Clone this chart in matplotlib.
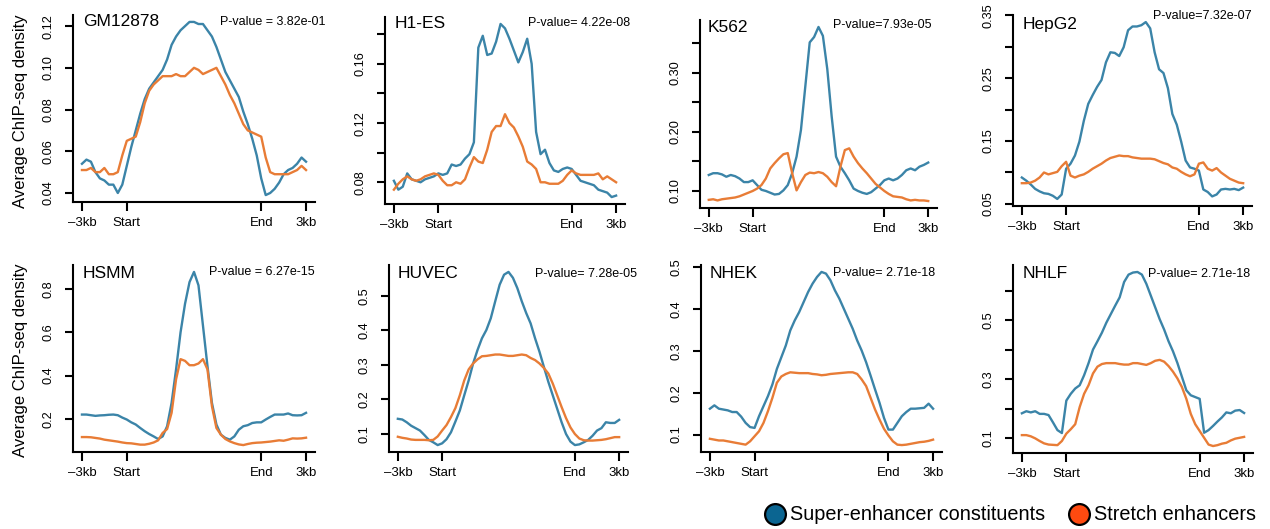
import numpy as np
import matplotlib.pyplot as plt
from matplotlib.lines import Line2D

plt.rcParams['font.family'] = ['Liberation Sans', 'DejaVu Sans']

################################################################################
### Profiles: average ChIP-seq density, 51 bins from -3kb to +3kb
### (bins 0-10 upstream flank, 10-40 scaled element body, 40-50 downstream)
################################################################################

bins = np.arange(51) / 10.0

cell_lines = ['GM12878', 'H1-ES', 'K562', 'HepG2', 'HSMM', 'HUVEC', 'NHEK', 'NHLF']
pvalues = ['P-value = 3.82e-01', 'P-value= 4.22e-08', 'P-value=7.93e-05', 'P-value=7.32e-07',
           'P-value = 6.27e-15', 'P-value= 7.28e-05', 'P-value= 2.71e-18', 'P-value= 2.71e-18']

gm_se = [0.054, 0.056, 0.055, 0.050, 0.047, 0.046, 0.044, 0.044, 0.040, 0.044,
         0.053, 0.062, 0.070, 0.078, 0.085, 0.090, 0.093, 0.096, 0.099, 0.104,
         0.111, 0.115, 0.118, 0.120, 0.122, 0.122, 0.121, 0.121, 0.118, 0.115,
         0.110, 0.104, 0.098, 0.094, 0.090, 0.086, 0.079, 0.073, 0.066, 0.058,
         0.047, 0.039, 0.040, 0.042, 0.045, 0.049, 0.051, 0.052, 0.054, 0.057, 0.055]
gm_st = [0.051, 0.051, 0.052, 0.050, 0.050, 0.052, 0.049, 0.049, 0.050, 0.058,
         0.065, 0.066, 0.067, 0.074, 0.083, 0.089, 0.092, 0.094, 0.096, 0.096,
         0.096, 0.097, 0.096, 0.096, 0.098, 0.100, 0.099, 0.097, 0.098, 0.099,
         0.100, 0.096, 0.092, 0.087, 0.083, 0.078, 0.073, 0.070, 0.069, 0.068,
         0.067, 0.057, 0.050, 0.049, 0.049, 0.049, 0.049, 0.050, 0.051, 0.053, 0.051]

h1_se = [0.081, 0.075, 0.077, 0.086, 0.082, 0.081, 0.080, 0.082, 0.083, 0.084,
         0.086, 0.085, 0.086, 0.092, 0.091, 0.092, 0.096, 0.099, 0.107, 0.171,
         0.179, 0.166, 0.167, 0.175, 0.187, 0.184, 0.177, 0.169, 0.161, 0.168,
         0.177, 0.160, 0.114, 0.099, 0.102, 0.093, 0.088, 0.087, 0.089, 0.090,
         0.089, 0.085, 0.081, 0.080, 0.079, 0.078, 0.075, 0.074, 0.073, 0.070, 0.071]
h1_st = [0.075, 0.079, 0.082, 0.084, 0.082, 0.081, 0.082, 0.084, 0.085, 0.086,
         0.085, 0.081, 0.078, 0.078, 0.080, 0.079, 0.082, 0.090, 0.097, 0.094,
         0.093, 0.102, 0.114, 0.118, 0.118, 0.126, 0.120, 0.117, 0.111, 0.104,
         0.094, 0.092, 0.089, 0.080, 0.080, 0.079, 0.079, 0.079, 0.081, 0.085,
         0.088, 0.086, 0.085, 0.085, 0.085, 0.085, 0.086, 0.082, 0.084, 0.082, 0.080]

k562_se = [0.127, 0.130, 0.130, 0.128, 0.124, 0.127, 0.125, 0.121, 0.115, 0.115,
           0.118, 0.110, 0.102, 0.100, 0.097, 0.094, 0.095, 0.101, 0.110, 0.130,
           0.158, 0.203, 0.277, 0.351, 0.360, 0.377, 0.362, 0.306, 0.226, 0.158,
           0.141, 0.130, 0.118, 0.104, 0.100, 0.097, 0.095, 0.098, 0.104, 0.110,
           0.118, 0.121, 0.118, 0.121, 0.127, 0.135, 0.138, 0.135, 0.141, 0.144, 0.148]
k562_st = [0.085, 0.086, 0.084, 0.086, 0.087, 0.088, 0.089, 0.091, 0.094, 0.097,
           0.100, 0.104, 0.110, 0.121, 0.138, 0.147, 0.155, 0.162, 0.164, 0.130,
           0.101, 0.115, 0.127, 0.131, 0.130, 0.132, 0.130, 0.124, 0.115, 0.108,
           0.141, 0.169, 0.172, 0.158, 0.147, 0.138, 0.130, 0.121, 0.112, 0.106,
           0.100, 0.095, 0.091, 0.090, 0.089, 0.086, 0.084, 0.085, 0.084, 0.084, 0.083]

hepg2_se = [0.092, 0.087, 0.081, 0.074, 0.070, 0.067, 0.066, 0.063, 0.058, 0.065,
            0.106, 0.114, 0.127, 0.149, 0.182, 0.209, 0.223, 0.236, 0.247, 0.275,
            0.291, 0.290, 0.285, 0.299, 0.326, 0.332, 0.332, 0.334, 0.339, 0.329,
            0.291, 0.264, 0.258, 0.234, 0.193, 0.176, 0.149, 0.119, 0.108, 0.106,
            0.103, 0.073, 0.069, 0.062, 0.065, 0.073, 0.074, 0.073, 0.074, 0.072, 0.076]
hepg2_st = [0.083, 0.083, 0.084, 0.087, 0.092, 0.100, 0.097, 0.099, 0.101, 0.110,
            0.117, 0.095, 0.092, 0.095, 0.097, 0.101, 0.106, 0.110, 0.114, 0.119,
            0.123, 0.125, 0.127, 0.126, 0.126, 0.124, 0.123, 0.122, 0.122, 0.122,
            0.121, 0.118, 0.115, 0.113, 0.108, 0.106, 0.101, 0.097, 0.094, 0.097,
            0.114, 0.116, 0.106, 0.103, 0.107, 0.100, 0.095, 0.090, 0.087, 0.084, 0.083]

hsmm_se = [0.220, 0.220, 0.217, 0.214, 0.216, 0.217, 0.219, 0.220, 0.217, 0.206,
           0.197, 0.184, 0.174, 0.158, 0.143, 0.130, 0.119, 0.107, 0.119, 0.166,
           0.274, 0.429, 0.600, 0.732, 0.832, 0.879, 0.817, 0.631, 0.445, 0.274,
           0.174, 0.127, 0.112, 0.104, 0.119, 0.150, 0.166, 0.171, 0.181, 0.184,
           0.184, 0.197, 0.209, 0.220, 0.220, 0.220, 0.225, 0.217, 0.216, 0.217, 0.228]
hsmm_st = [0.116, 0.116, 0.115, 0.112, 0.109, 0.104, 0.101, 0.098, 0.095, 0.091,
           0.088, 0.087, 0.084, 0.081, 0.081, 0.085, 0.091, 0.101, 0.135, 0.153,
           0.228, 0.383, 0.476, 0.468, 0.448, 0.448, 0.456, 0.476, 0.429, 0.259,
           0.158, 0.127, 0.107, 0.096, 0.088, 0.082, 0.079, 0.084, 0.088, 0.090,
           0.091, 0.093, 0.095, 0.098, 0.101, 0.099, 0.104, 0.110, 0.109, 0.110, 0.113]

huvec_se = [0.144, 0.142, 0.134, 0.124, 0.117, 0.110, 0.097, 0.083, 0.076, 0.068,
            0.073, 0.085, 0.105, 0.136, 0.168, 0.212, 0.255, 0.304, 0.343, 0.377,
            0.401, 0.435, 0.484, 0.532, 0.561, 0.569, 0.552, 0.522, 0.484, 0.450,
            0.420, 0.377, 0.338, 0.294, 0.251, 0.212, 0.173, 0.134, 0.100, 0.078,
            0.068, 0.070, 0.076, 0.083, 0.095, 0.110, 0.117, 0.134, 0.132, 0.132, 0.141]
huvec_st = [0.092, 0.089, 0.087, 0.084, 0.083, 0.083, 0.083, 0.082, 0.083, 0.093,
            0.110, 0.126, 0.149, 0.175, 0.212, 0.255, 0.287, 0.304, 0.316, 0.325,
            0.326, 0.328, 0.330, 0.330, 0.328, 0.326, 0.326, 0.328, 0.330, 0.328,
            0.320, 0.314, 0.304, 0.291, 0.275, 0.246, 0.212, 0.178, 0.146, 0.119,
            0.100, 0.087, 0.082, 0.081, 0.081, 0.082, 0.083, 0.085, 0.088, 0.091, 0.091]

nhek_se = [0.162, 0.170, 0.162, 0.160, 0.158, 0.154, 0.154, 0.143, 0.128, 0.118,
           0.116, 0.144, 0.168, 0.192, 0.220, 0.257, 0.285, 0.313, 0.349, 0.373,
           0.393, 0.417, 0.441, 0.461, 0.477, 0.489, 0.485, 0.469, 0.445, 0.425,
           0.401, 0.377, 0.353, 0.325, 0.301, 0.273, 0.241, 0.208, 0.176, 0.140,
           0.112, 0.112, 0.128, 0.144, 0.154, 0.162, 0.162, 0.163, 0.164, 0.174, 0.162]
nhek_st = [0.090, 0.088, 0.086, 0.086, 0.084, 0.082, 0.080, 0.078, 0.076, 0.084,
           0.096, 0.108, 0.128, 0.156, 0.188, 0.224, 0.239, 0.245, 0.249, 0.248,
           0.247, 0.247, 0.247, 0.245, 0.244, 0.242, 0.243, 0.245, 0.246, 0.247,
           0.248, 0.249, 0.249, 0.245, 0.232, 0.216, 0.188, 0.160, 0.136, 0.114,
           0.098, 0.084, 0.076, 0.075, 0.076, 0.078, 0.080, 0.082, 0.083, 0.085, 0.088]

nhlf_se = [0.185, 0.192, 0.188, 0.192, 0.183, 0.183, 0.179, 0.154, 0.128, 0.118,
           0.228, 0.251, 0.269, 0.280, 0.314, 0.355, 0.401, 0.429, 0.458, 0.492,
           0.521, 0.550, 0.578, 0.630, 0.655, 0.662, 0.664, 0.655, 0.624, 0.584,
           0.544, 0.504, 0.469, 0.429, 0.395, 0.355, 0.309, 0.263, 0.246, 0.240,
           0.234, 0.119, 0.128, 0.142, 0.157, 0.171, 0.188, 0.185, 0.194, 0.196, 0.186]
nhlf_st = [0.111, 0.111, 0.107, 0.100, 0.091, 0.083, 0.079, 0.078, 0.077, 0.091,
           0.116, 0.131, 0.148, 0.206, 0.251, 0.280, 0.320, 0.343, 0.352, 0.355,
           0.355, 0.355, 0.352, 0.350, 0.350, 0.355, 0.355, 0.352, 0.349, 0.355,
           0.363, 0.366, 0.360, 0.345, 0.326, 0.303, 0.274, 0.234, 0.183, 0.148,
           0.125, 0.102, 0.079, 0.074, 0.077, 0.082, 0.085, 0.093, 0.099, 0.102, 0.105]

se_profiles = [gm_se, h1_se, k562_se, hepg2_se, hsmm_se, huvec_se, nhek_se, nhlf_se]
st_profiles = [gm_st, h1_st, k562_st, hepg2_st, hsmm_st, huvec_st, nhek_st, nhlf_st]

xtick_pos = [0, 1, 4, 5]
xtick_labels = ['\u20133kb', 'Start', 'End', '3kb']

yticks = [[0.04, 0.06, 0.08, 0.10, 0.12],
          [0.08, 0.10, 0.12, 0.14, 0.16, 0.18],
          [0.10, 0.15, 0.20, 0.25, 0.30, 0.35],
          [0.05, 0.10, 0.15, 0.20, 0.25, 0.30, 0.35],
          [0.2, 0.4, 0.6, 0.8],
          [0.1, 0.2, 0.3, 0.4, 0.5],
          [0.1, 0.2, 0.3, 0.4, 0.5],
          [0.1, 0.2, 0.3, 0.4, 0.5, 0.6]]
ytick_labels = [['0.04', '0.06', '0.08', '0.10', '0.12'],
                ['0.08', '', '0.12', '', '0.16', ''],
                ['0.10', '', '0.20', '', '0.30', ''],
                ['0.05', '', '0.15', '', '0.25', '', '0.35'],
                ['0.2', '0.4', '0.6', '0.8'],
                ['0.1', '0.2', '0.3', '0.4', '0.5'],
                ['0.1', '0.2', '0.3', '0.4', '0.5'],
                ['0.1', '', '0.3', '', '0.5', '']]

################################################################################
### Layout (pixel boxes: left, top, right, bottom)
################################################################################

W, H = 1270, 529
boxes = [(73, 15, 315, 202), (385, 17, 625, 204), (700, 20, 937, 208), (1013, 15, 1252, 206),
         (73, 265, 315, 452), (389, 265, 628, 452), (701, 265, 942, 452), (1013, 265, 1253, 453)]
title_xy = [(83, 22), (395, 23), (708, 27), (1023, 24),
            (83, 273), (398, 273), (710, 273), (1023, 273)]
pval_xy = [(325, 22), (630, 23), (931, 25), (1252, 16),
           (315, 272), (637, 274), (935, 273), (1250, 274)]

blue = '#3b84a8'
orange = '#e87c36'

fig = plt.figure(figsize=(W / 100, H / 100), dpi=100)

for i in range(8):
    l, t, r, b = boxes[i]
    ax = fig.add_axes([l / W, 1 - b / H, (r - l) / W, (b - t) / H])
    ax.plot(bins, se_profiles[i], color=blue, lw=1.7, solid_joinstyle='round')
    ax.plot(bins, st_profiles[i], color=orange, lw=1.7, solid_joinstyle='round')

    # R-style 4% padding on both axes
    allv = np.array(se_profiles[i] + st_profiles[i])
    lo, hi = allv.min(), allv.max()
    pad = 0.04 * (hi - lo)
    ax.set_ylim(lo - pad, hi + pad)
    ax.set_xlim(-0.2, 5.2)

    for s in ['top', 'right']:
        ax.spines[s].set_visible(False)
    for s in ['left', 'bottom']:
        ax.spines[s].set_linewidth(1.5)

    ax.set_xticks(xtick_pos)
    ax.set_xticklabels(xtick_labels, fontsize=9.5)
    ax.set_yticks(yticks[i])
    ax.set_yticklabels(ytick_labels[i], fontsize=9.2, rotation=90, va='center')
    ax.tick_params(axis='x', length=6.5, width=1.5, pad=4.5)
    ax.tick_params(axis='y', length=5.8, width=1.5, pad=7.5)

    tx, ty = title_xy[i]
    fig.text(tx / W, 1 - ty / H, cell_lines[i], fontsize=12.5, ha='left', va='center')
    px, py = pval_xy[i]
    fig.text(px / W, 1 - py / H, pvalues[i], fontsize=9, ha='right', va='center')

fig.text(21 / W, 1 - 111 / H, 'Average ChIP-seq density', rotation=90,
         fontsize=12, ha='center', va='center')
fig.text(21 / W, 1 - 360 / H, 'Average ChIP-seq density', rotation=90,
         fontsize=12, ha='center', va='center')

handles = [Line2D([], [], ls='none', marker='o', markersize=15, mfc='#0b6591', mec='black', mew=1.6),
           Line2D([], [], ls='none', marker='o', markersize=15, mfc='#ff4a10', mec='black', mew=1.6)]
fig.legend(handles, ['Super-enhancer constituents', 'Stretch enhancers'], ncol=2,
           loc='center', bbox_to_anchor=(1010 / W, 1 - 515 / H), frameon=False,
           fontsize=14.3, handlelength=1.1, handletextpad=0.2, columnspacing=1.2,
           borderpad=0, borderaxespad=0)

fig.savefig('out.png', dpi=100)
